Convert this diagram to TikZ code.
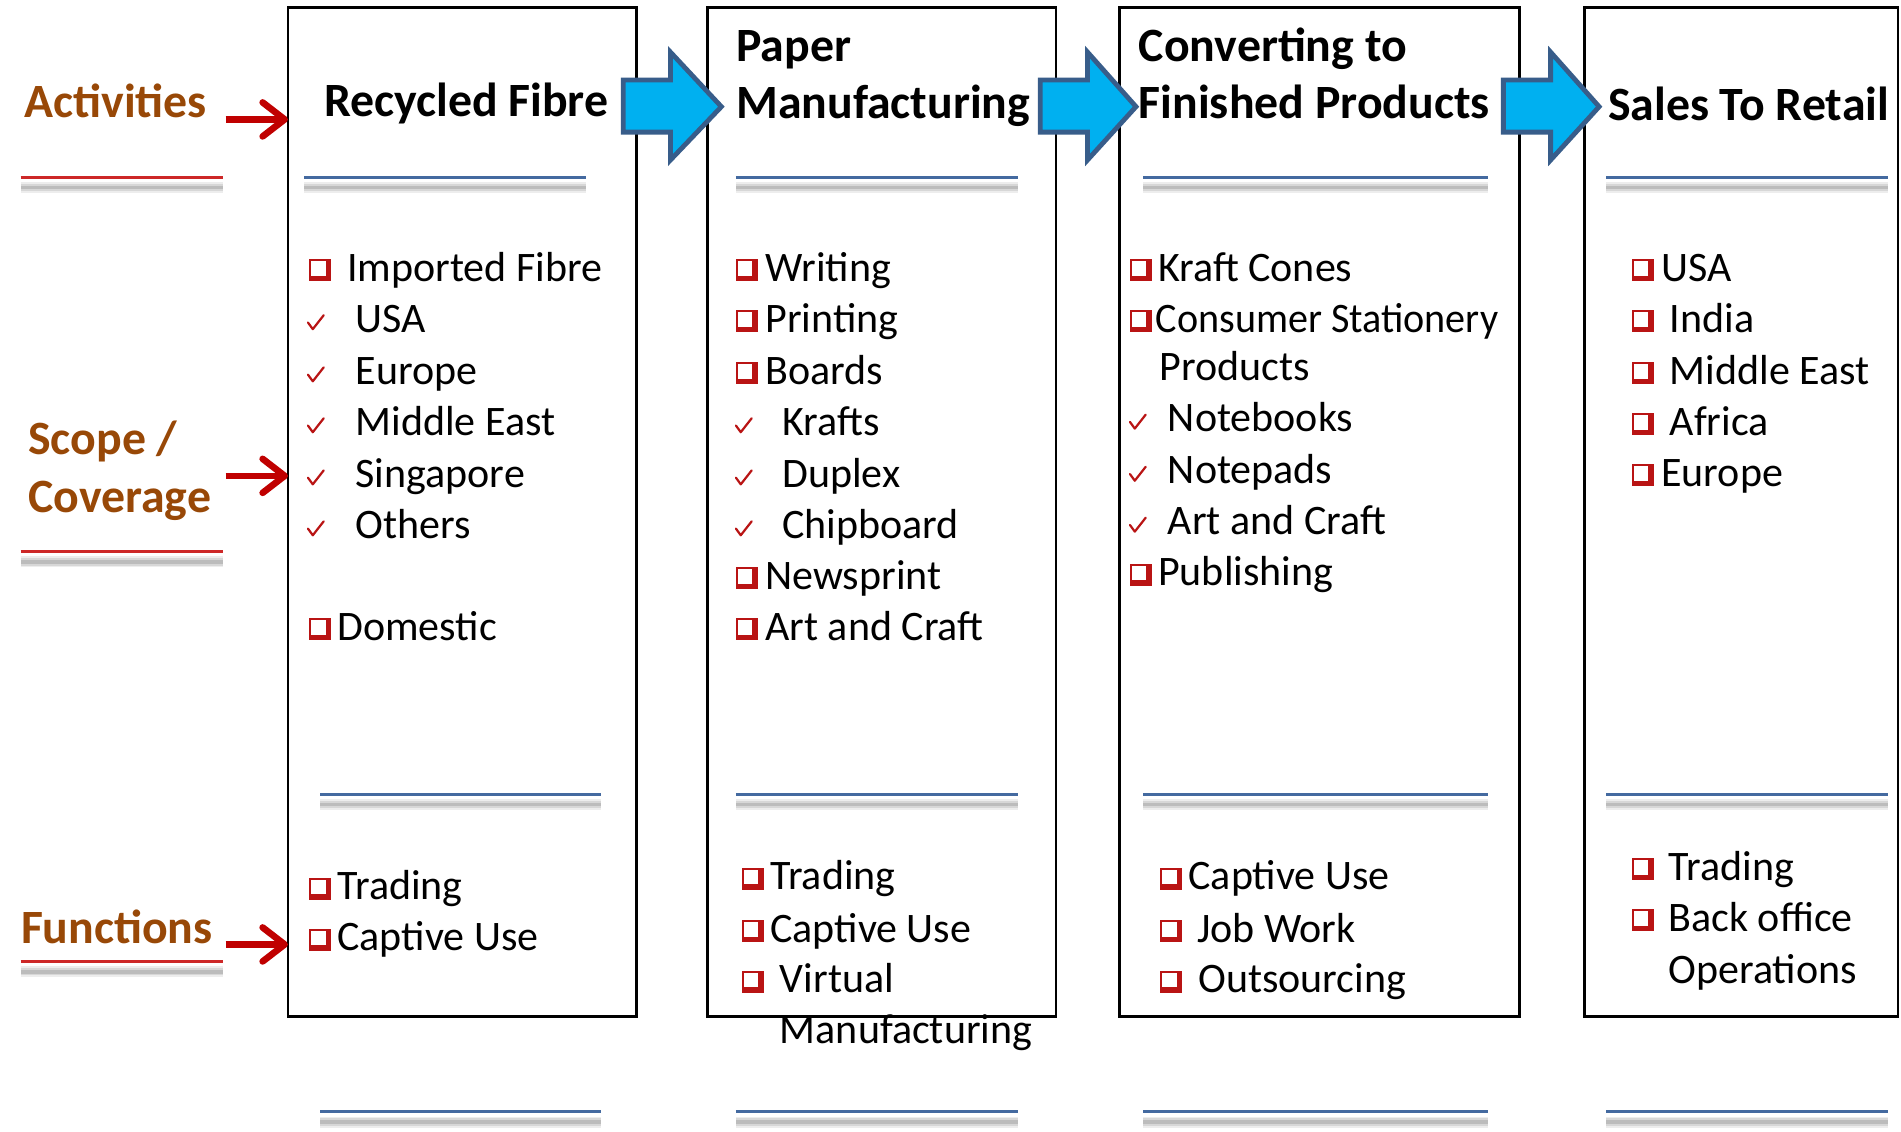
\documentclass[tikz,border=0pt]{standalone}
\usepackage{fontspec}
\setmainfont{Carlito}
\usetikzlibrary{arrows.meta}
\definecolor{lblbrown}{RGB}{152,72,7}
\definecolor{arrred}{RGB}{192,0,0}
\definecolor{ulred}{RGB}{205,40,40}
\definecolor{ulblue}{RGB}{68,106,160}
\definecolor{bulred}{RGB}{185,20,20}
\definecolor{cyanfill}{RGB}{0,176,240}
\definecolor{arrborder}{RGB}{56,93,138}
\newlength\pxu
\setlength\pxu{0.6062pt}
\newcommand\sepline[4]{%
  \draw[shadowA] (#2,#4+8.5) -- (#3,#4+8.5);
  \draw[shadowB] (#2,#4+8.5) -- (#3,#4+8.5);
  \draw[shadowC] (#2,#4+8.5) -- (#3,#4+8.5);
  \draw[#1] (#2,#4) -- (#3,#4);
}
\tikzset{
  itemtxt/.style={anchor=base west, inner sep=0pt, font=\fontsize{21}{25.6}\selectfont},
  hdtxt/.style={anchor=base west, inner sep=0pt, font=\fontsize{23.9}{28}\selectfont\bfseries},
  lbltxt/.style={hdtxt, text=lblbrown},
  boxstyle/.style={draw=black, line width=1.3pt, inner sep=0pt, outer sep=0pt},
  blockarrow/.style={fill=cyanfill, draw=arrborder, line width=2.4pt, line join=miter},
  redarrow/.style={draw=arrred, line width=3.3pt, -{Straight Barb[length=11pt,width=17pt,round]}},
  bluesep/.style={draw=ulblue, line width=1.5pt},
  redsep/.style={draw=ulred, line width=1.5pt},
  shadowA/.style={draw=black, opacity=0.07, line width=5.5pt},
  shadowB/.style={draw=black, opacity=0.09, line width=3.6pt},
  shadowC/.style={draw=black, opacity=0.12, line width=1.8pt},
  sqbul/.pic={
    \fill[bulred] (0,-18) rectangle (18,0);
    \fill[white] (1.5,-16.5) rectangle (13.5,-4.5);
  },
  chk/.pic={
    \draw[bulred, line width=1.1pt, line cap=round, line join=round] (0,-8) -- (4,-2.5) -- (13,-14);
  }
}
\begin{document}
\begin{tikzpicture}[x=0.6062pt,y=-0.6062pt]
\useasboundingbox (0,0) rectangle (1568,933);
\fill[white] (0,0) rectangle (1568,933);

% boxes
\node[boxstyle, minimum width=287.5\pxu, minimum height=832.5\pxu] (box1) at (381.25,422.25) {};
\node[boxstyle, minimum width=287.5\pxu, minimum height=832.5\pxu] (box2) at (727.25,422.25) {};
\node[boxstyle, minimum width=330\pxu, minimum height=832.5\pxu] (box3) at (1088.5,422.25) {};
\node[boxstyle, minimum width=258.5\pxu, minimum height=832.5\pxu] (box4) at (1436.25,422.25) {};

% block arrows
\draw[blockarrow] (514,66) -- (553,66) -- (553,43) -- (595,88) -- (553,132) -- (553,109) -- (514,109) -- cycle;
\draw[blockarrow] (858,66) -- (897,66) -- (897,43) -- (937,88) -- (897,132) -- (897,109) -- (858,109) -- cycle;
\draw[blockarrow] (1240,66) -- (1279,66) -- (1279,43) -- (1319,88) -- (1279,132) -- (1279,109) -- (1240,109) -- cycle;

% left labels
\node[lbltxt] (lact) at (20,97) {Activities};
\node[lbltxt] (lsc1) at (23,375) {Scope /};
\node[lbltxt] (lsc2) at (23,423) {Coverage};
\node[lbltxt] (lfun) at (17,778) {Functions};

\coordinate (ra1) at (186,98.5);
\coordinate (ra2) at (186,392.5);
\coordinate (ra3) at (186,779);
\draw[redarrow] (ra1) -- (ra1 -| box1.west);
\draw[redarrow] (ra2) -- (ra2 -| box1.west);
\draw[redarrow] (ra3) -- (ra3 -| box1.west);

\sepline{redsep}{17}{184}{146}
\sepline{redsep}{17}{184}{455}
\sepline{redsep}{17}{184}{793}

% headings
\node[hdtxt] (h1) at (267,96) {Recycled Fibre};
\node[hdtxt] (h2a) at (607,51) {Paper};
\node[hdtxt] (h2b) at (607,98) {Manufacturing};
\node[hdtxt] (h3a) at (939,51) {Converting to};
\node[hdtxt] (h3b) at (939,98) {Finished Products};
\node[hdtxt] (h4) at (1326,99) {Sales To Retail};

% separator lines
\sepline{bluesep}{251}{483}{146}
\sepline{bluesep}{607}{840}{146}
\sepline{bluesep}{943}{1227}{146}
\sepline{bluesep}{1325}{1557}{146}
\sepline{bluesep}{264}{496}{655}
\sepline{bluesep}{607}{840}{655}
\sepline{bluesep}{943}{1227}{655}
\sepline{bluesep}{1325}{1557}{655}
\sepline{bluesep}{264}{496}{917}
\sepline{bluesep}{607}{840}{917}
\sepline{bluesep}{943}{1227}{917}
\sepline{bluesep}{1325}{1557}{917}

% box 1 items
\pic at (255,232) {sqbul}; \node[itemtxt] (a1) at (286,232) {Imported Fibre};
\pic at (254,274) {chk};   \node[itemtxt] (a2) at (293,274) {USA};
\pic at (254,317) {chk};   \node[itemtxt] (a3) at (293,317) {Europe};
\pic at (254,359) {chk};   \node[itemtxt] (a4) at (293,359) {Middle East};
\pic at (254,402) {chk};   \node[itemtxt] (a5) at (293,402) {Singapore};
\pic at (254,444) {chk};   \node[itemtxt] (a6) at (293,444) {Others};
\pic at (255,528) {sqbul}; \node[itemtxt] (a7) at (278,528) {Domestic};
\pic at (255,742) {sqbul}; \node[itemtxt] (a8) at (278,742) {Trading};
\pic at (255,784) {sqbul}; \node[itemtxt] (a9) at (278,784) {Captive Use};

% box 2 items
\pic at (607,232) {sqbul}; \node[itemtxt] (b1) at (631,232) {Writing};
\pic at (607,274) {sqbul}; \node[itemtxt] (b2) at (631,274) {Printing};
\pic at (607,317) {sqbul}; \node[itemtxt] (b3) at (631,317) {Boards};
\pic at (607,359) {chk};   \node[itemtxt] (b4) at (645,359) {Krafts};
\pic at (607,402) {chk};   \node[itemtxt] (b5) at (645,402) {Duplex};
\pic at (607,444) {chk};   \node[itemtxt] (b6) at (645,444) {Chipboard};
\pic at (607,486) {sqbul}; \node[itemtxt] (b7) at (631,486) {Newsprint};
\pic at (607,528) {sqbul}; \node[itemtxt] (b8) at (631,528) {Art and Craft};
\pic at (612,734) {sqbul}; \node[itemtxt] (b9) at (635,734) {Trading};
\pic at (612,777) {sqbul}; \node[itemtxt] (b10) at (635,777) {Captive Use};
\pic at (612,819) {sqbul}; \node[itemtxt] (b11) at (643,819) {Virtual};
\node[itemtxt] (b12) at (643,861) {Manufacturing};

% box 3 items
\pic at (932,232) {sqbul}; \node[itemtxt] (c1) at (955,232) {Kraft Cones};
\pic at (932,274) {sqbul}; \node[itemtxt] (c2) at (953,274) {\scalebox{0.955}[1]{Consumer Stationery}};
\node[itemtxt] (c3) at (956,314) {Products};
\pic at (932,356) {chk};   \node[itemtxt] (c4) at (963,356) {Notebooks};
\pic at (932,399) {chk};   \node[itemtxt] (c5) at (963,399) {Notepads};
\pic at (932,441) {chk};   \node[itemtxt] (c6) at (963,441) {Art and Craft};
\pic at (932,483) {sqbul}; \node[itemtxt] (c7) at (955,483) {Publishing};
\pic at (957,734) {sqbul}; \node[itemtxt] (c8) at (980,734) {Captive Use};
\pic at (957,777) {sqbul}; \node[itemtxt] (c9) at (987,777) {Job Work};
\pic at (957,819) {sqbul}; \node[itemtxt] (c10) at (988,819) {Outsourcing};

% box 4 items
\pic at (1346,232) {sqbul}; \node[itemtxt] (d1) at (1370,232) {USA};
\pic at (1346,274) {sqbul}; \node[itemtxt] (d2) at (1377,274) {India};
\pic at (1346,317) {sqbul}; \node[itemtxt] (d3) at (1377,317) {Middle East};
\pic at (1346,359) {sqbul}; \node[itemtxt] (d4) at (1377,359) {Africa};
\pic at (1346,401) {sqbul}; \node[itemtxt] (d5) at (1370,401) {Europe};
\pic at (1346,726) {sqbul}; \node[itemtxt] (d6) at (1376,726) {Trading};
\pic at (1346,768) {sqbul}; \node[itemtxt] (d7) at (1376,768) {Back office};
\node[itemtxt] (d8) at (1376,811) {Operations};
\end{tikzpicture}
\end{document}
